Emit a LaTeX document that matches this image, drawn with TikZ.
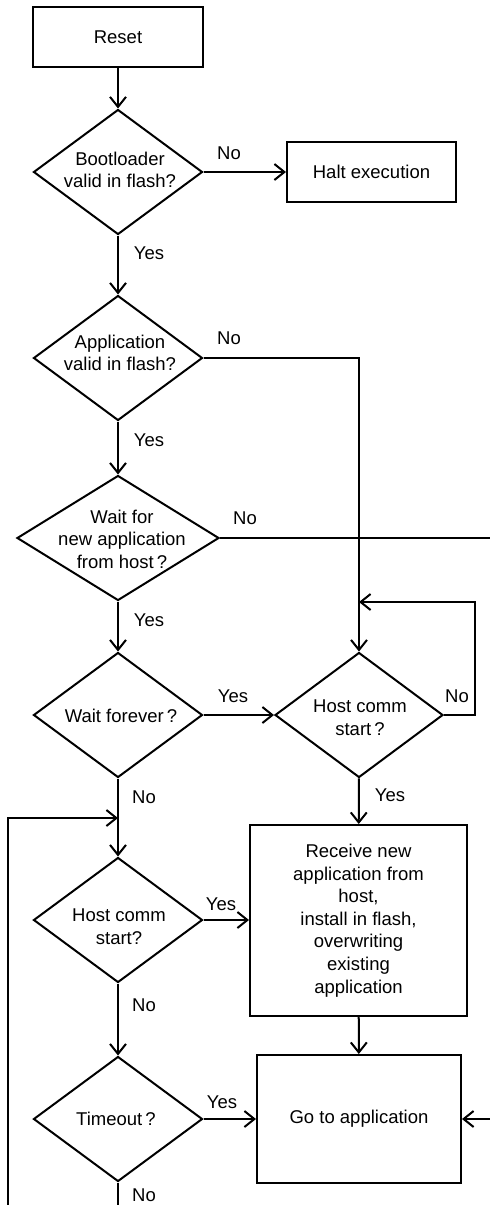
\documentclass[tikz,border=0pt]{standalone}
\usepackage{fontspec}
\setmainfont{Liberation Sans}
\usetikzlibrary{shapes.geometric,arrows.meta}
\begin{document}
\begin{tikzpicture}[x=1pt,y=-1pt,line width=2pt,
  font=\fontsize{18.5}{22.6}\selectfont,
  box/.style={draw,rectangle,inner sep=0pt},
  dec/.style={draw,diamond,inner sep=0pt,minimum width=169pt,minimum height=125pt},
  txt/.style={align=center,inner sep=0pt},
  arr/.style={-{Straight Barb[length=10pt,width=16pt]}}]
\useasboundingbox (0,0) rectangle (490,1205);
\node[box,minimum width=170pt,minimum height=60pt] (reset) at (118,37) {Reset};
\node[box,minimum width=169pt,minimum height=60pt] (halt) at (371.5,172) {Halt execution};
\node[box,minimum width=217pt,minimum height=191pt,align=center] (recv) at (358.5,920.5)
  {Receive new\\application from\\host,\\install in flash,\\overwriting\\existing\\application};
\node[box,minimum width=204pt,minimum height=128pt] (go) at (359,1119) {Go to application};
\node[dec] (d1) at (118,172) {};
\node[dec] (d2) at (118,358) {};
\node[dec,minimum width=202pt] (d3) at (118,538) {};
\node[dec] (d4) at (118,715) {};
\node[dec,minimum width=168pt] (d5) at (359,715) {};
\node[dec] (d6) at (118,920) {};
\node[dec] (d7) at (118,1119) {};
\node[txt] (d1t) at (120,170) {Bootloader\\valid in flash?};
\node[txt] (d2t) at (120,353) {Application\\valid in flash?};
\node[txt] (d3t) at (122,539) {Wait for\\new application\\from host\,?};
\node[txt] (d4t) at (121,716) {Wait forever\,?};
\node[txt] (d5t) at (360,718) {Host comm\\start\,?};
\node[txt] (d6t) at (119,927) {Host comm\\start?};
\node[txt] (d7t) at (116,1119) {Timeout\,?};
\node (n1) at (229,153) {No};
\node (y1) at (149,253) {Yes};
\node (n2) at (229,338) {No};
\node (y2) at (149,440) {Yes};
\node (n3) at (245,518) {No};
\node (y3) at (149,620) {Yes};
\node (y4) at (233,696) {Yes};
\node (n5) at (457,696) {No};
\node (y5) at (390,795) {Yes};
\node (n4) at (144,797) {No};
\node (y6) at (221,904) {Yes};
\node (n6) at (144,1005) {No};
\node (y7) at (222,1102) {Yes};
\node (n7) at (144,1195) {No};
\coordinate (r1) at (492,538);
\coordinate (k1) at (475,602);
\coordinate (k2) at (359,602);
\coordinate (l1) at (8,1207);
\coordinate (l3) at (118,818);
\coordinate (b1) at (118,1207);
\draw[arr] (reset) -- (d1);
\draw[arr] (d1) -- (halt);
\draw[arr] (d1) -- (d2);
\draw[arr] (d2.east) -| (d5.north);
\draw[arr] (d2) -- (d3);
\draw[arr] (d3.east) -- (r1) |- (go.east);
\draw[arr] (d3) -- (d4);
\draw[arr] (d4) -- (d5);
\draw[arr] (d5.east) -| (k1) -- (k2);
\draw[arr] (d5) -- (recv);
\draw[arr] (d4) -- (d6);
\draw[arr] (l1) |- (l3);
\draw[arr] (d6.east) -- (d6.east -| recv.west);
\draw[arr] (d6) -- (d7);
\draw[arr] (d7) -- (go);
\draw[arr] (recv) -- (go);
\draw (d7.south) -- (b1);
\end{tikzpicture}
\end{document}
